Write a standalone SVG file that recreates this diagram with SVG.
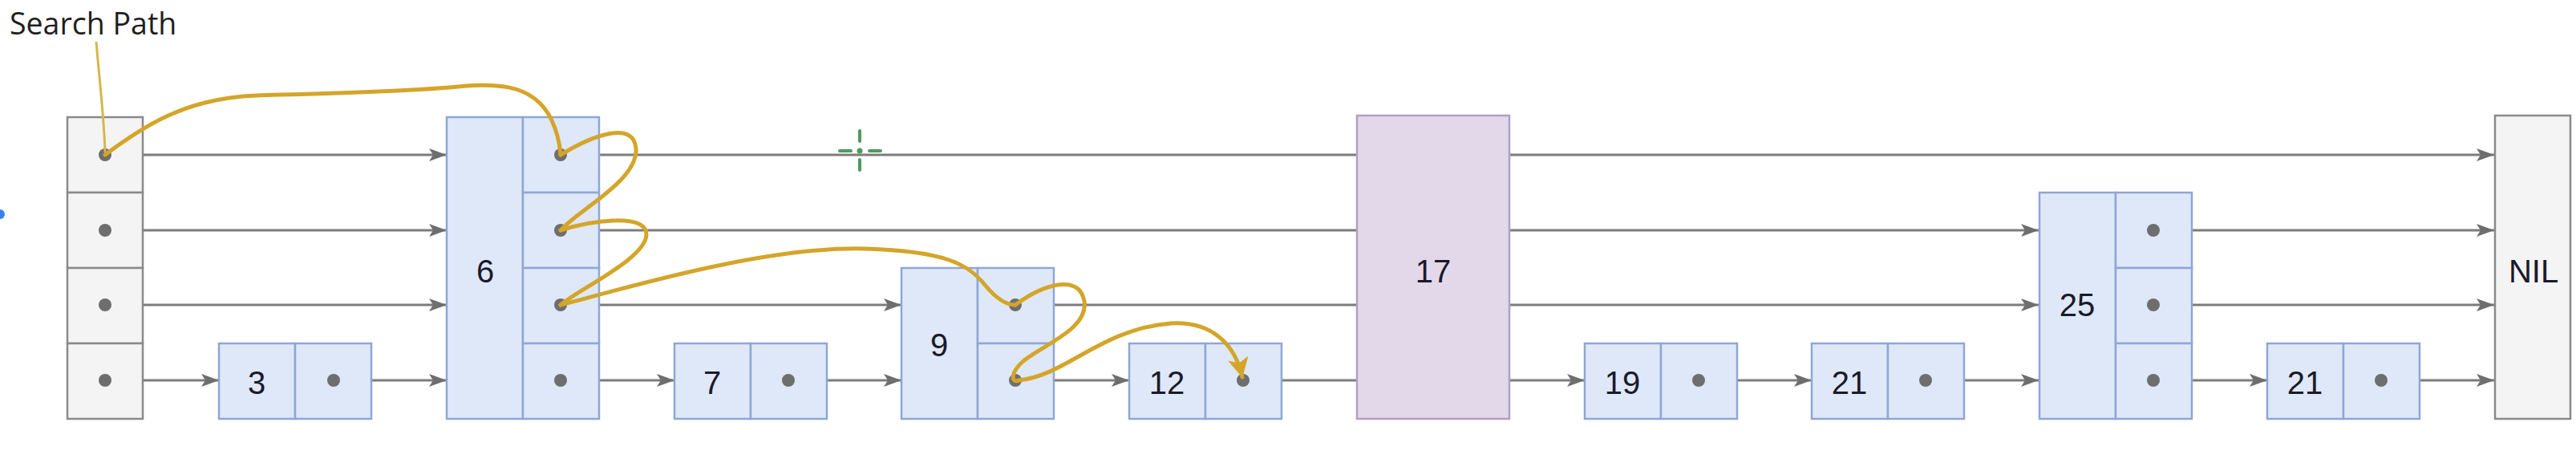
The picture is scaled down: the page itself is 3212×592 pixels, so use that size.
<svg xmlns="http://www.w3.org/2000/svg" width="3212" height="592" viewBox="0 0 3212 592">
<defs>
<style>
.bn{fill:#dfe8f9;stroke:#8fa7d4;stroke-width:2.5}
.gn{fill:#f4f4f4;stroke:#8a8a8a;stroke-width:2.5}
.pn{fill:#e2d8ea;stroke:#b29fc3;stroke-width:2.5}
.t{font-family:"Liberation Sans",Arial,sans-serif;font-size:40px;fill:#1a1a2a;text-anchor:middle}
.dot{fill:#6e6e6e}
.ln{stroke:#7c7c7c;stroke-width:3;fill:none}
.sp{stroke:#d4a52a;stroke-width:5;fill:none;stroke-linecap:round}
</style>
<marker id="ah" markerUnits="userSpaceOnUse" markerWidth="24" markerHeight="18" refX="22" refY="8" orient="auto">
<path d="M0,0 L22,8 L0,16 L5,8 z" fill="#6e6e6e"/>
</marker>
<marker id="gh" markerUnits="userSpaceOnUse" markerWidth="30" markerHeight="30" refX="24" refY="13" orient="auto">
<path d="M0,0 L25,13 L0,26 L6,13 z" fill="#d4a52a"/>
</marker>
</defs>
<rect width="3212" height="592" fill="#ffffff"/>

<g id="connectors">
<line class="ln" x1="131" y1="193" x2="557" y2="193" marker-end="url(#ah)"/>
<line class="ln" x1="699" y1="193" x2="3110" y2="193" marker-end="url(#ah)"/>
<line class="ln" x1="131" y1="287" x2="557" y2="287" marker-end="url(#ah)"/>
<line class="ln" x1="699" y1="287" x2="2542" y2="287" marker-end="url(#ah)"/>
<line class="ln" x1="2685" y1="287" x2="3110" y2="287" marker-end="url(#ah)"/>
<line class="ln" x1="131" y1="380" x2="557" y2="380" marker-end="url(#ah)"/>
<line class="ln" x1="699" y1="380" x2="1124" y2="380" marker-end="url(#ah)"/>
<line class="ln" x1="1266" y1="380" x2="2542" y2="380" marker-end="url(#ah)"/>
<line class="ln" x1="2685" y1="380" x2="3110" y2="380" marker-end="url(#ah)"/>
<line class="ln" x1="131" y1="474" x2="273" y2="474" marker-end="url(#ah)"/>
<line class="ln" x1="416" y1="474" x2="557" y2="474" marker-end="url(#ah)"/>
<line class="ln" x1="699" y1="474" x2="841" y2="474" marker-end="url(#ah)"/>
<line class="ln" x1="983" y1="474" x2="1124" y2="474" marker-end="url(#ah)"/>
<line class="ln" x1="1266" y1="474" x2="1408" y2="474" marker-end="url(#ah)"/>
<line class="ln" x1="1550" y1="474" x2="1976" y2="474" marker-end="url(#ah)"/>
<line class="ln" x1="2118" y1="474" x2="2259" y2="474" marker-end="url(#ah)"/>
<line class="ln" x1="2401" y1="474" x2="2542" y2="474" marker-end="url(#ah)"/>
<line class="ln" x1="2685" y1="474" x2="2827" y2="474" marker-end="url(#ah)"/>
<line class="ln" x1="2969" y1="474" x2="3110" y2="474" marker-end="url(#ah)"/>
</g>

<g id="head">
<rect class="gn" x="84" y="146" width="94" height="94"/>
<rect class="gn" x="84" y="240" width="94" height="94"/>
<rect class="gn" x="84" y="334" width="94" height="94"/>
<rect class="gn" x="84" y="428" width="94" height="94"/>
<circle class="dot" cx="131" cy="193" r="8"/>
<circle class="dot" cx="131" cy="287" r="8"/>
<circle class="dot" cx="131" cy="380" r="8"/>
<circle class="dot" cx="131" cy="474" r="8"/>
</g>

<g id="node3">
<rect class="bn" x="273" y="428" width="95" height="94"/>
<rect class="bn" x="368" y="428" width="95" height="94"/>
<text class="t" x="320" y="491">3</text>
<circle class="dot" cx="416" cy="474" r="8"/>
</g>

<g id="node6">
<rect class="bn" x="557" y="146" width="95" height="376"/>
<rect class="bn" x="652" y="146" width="95" height="94"/>
<rect class="bn" x="652" y="240" width="95" height="94"/>
<rect class="bn" x="652" y="334" width="95" height="94"/>
<rect class="bn" x="652" y="428" width="95" height="94"/>
<text class="t" x="605" y="352">6</text>
<circle class="dot" cx="699" cy="193" r="8"/>
<circle class="dot" cx="699" cy="287" r="8"/>
<circle class="dot" cx="699" cy="380" r="8"/>
<circle class="dot" cx="699" cy="474" r="8"/>
</g>

<g id="node7">
<rect class="bn" x="841" y="428" width="95" height="94"/>
<rect class="bn" x="936" y="428" width="95" height="94"/>
<text class="t" x="888" y="491">7</text>
<circle class="dot" cx="983" cy="474" r="8"/>
</g>

<g id="node9">
<rect class="bn" x="1124" y="334" width="95" height="188"/>
<rect class="bn" x="1219" y="334" width="95" height="94"/>
<rect class="bn" x="1219" y="428" width="95" height="94"/>
<text class="t" x="1171" y="444">9</text>
<circle class="dot" cx="1266" cy="380" r="8"/>
<circle class="dot" cx="1266" cy="474" r="8"/>
</g>

<g id="node12">
<rect class="bn" x="1408" y="428" width="95" height="94"/>
<rect class="bn" x="1503" y="428" width="95" height="94"/>
<text class="t" x="1455" y="491">12</text>
<circle class="dot" cx="1550" cy="474" r="8"/>
</g>

<g id="node17">
<rect class="pn" x="1692" y="144" width="190" height="378"/>
<text class="t" x="1787" y="352">17</text>
</g>

<g id="node19">
<rect class="bn" x="1976" y="428" width="95" height="94"/>
<rect class="bn" x="2071" y="428" width="95" height="94"/>
<text class="t" x="2023" y="491">19</text>
<circle class="dot" cx="2118" cy="474" r="8"/>
</g>

<g id="node21a">
<rect class="bn" x="2259" y="428" width="95" height="94"/>
<rect class="bn" x="2354" y="428" width="95" height="94"/>
<text class="t" x="2306" y="491">21</text>
<circle class="dot" cx="2401" cy="474" r="8"/>
</g>

<g id="node25">
<rect class="bn" x="2543" y="240" width="95" height="282"/>
<rect class="bn" x="2638" y="240" width="95" height="94"/>
<rect class="bn" x="2638" y="334" width="95" height="94"/>
<rect class="bn" x="2638" y="428" width="95" height="94"/>
<text class="t" x="2590" y="394">25</text>
<circle class="dot" cx="2685" cy="287" r="8"/>
<circle class="dot" cx="2685" cy="380" r="8"/>
<circle class="dot" cx="2685" cy="474" r="8"/>
</g>

<g id="node21b">
<rect class="bn" x="2827" y="428" width="95" height="94"/>
<rect class="bn" x="2922" y="428" width="95" height="94"/>
<text class="t" x="2874" y="491">21</text>
<circle class="dot" cx="2969" cy="474" r="8"/>
</g>

<g id="nil">
<rect class="gn" x="3111" y="144" width="94" height="378"/>
<text class="t" x="3159" y="352">NIL</text>
</g>

<g id="search-path">
<text x="12" y="43" font-family="'Open Sans','Noto Sans',sans-serif" font-size="37.5" fill="#1f1f1f">Search Path</text>
<path d="M120,52 C124,100 130,150 131,190" stroke="#d8b54a" stroke-width="3" fill="none"/>
<path class="sp" d="M131,193 C175,160 230,122 320,119 C420,116 500,114 560,109 C610,104 665,100 688,150 C695,165 698,180 699,193"/>
<path class="sp" d="M699,193 C740,168 790,150 793,185 C796,225 720,262 699,287"/>
<path class="sp" d="M699,287 C740,274 805,266 806,292 C806,322 722,360 699,380"/>
<path class="sp" d="M699,380 C760,365 950,306 1080,310 C1180,313 1208,330 1228,355 C1242,372 1254,380 1266,380"/>
<path class="sp" d="M1266,380 C1300,355 1345,340 1352,375 C1358,410 1300,430 1276,450 C1258,466 1262,478 1270,474"/>
<path class="sp" d="M1270,474 C1330,468 1372,410 1460,403 C1512,400 1540,430 1549,470" marker-end="url(#gh)"/>
</g>

<g id="cursor" stroke="#4f9a5e" stroke-width="4" stroke-linecap="round">
<line x1="1072" y1="163" x2="1072" y2="176"/>
<line x1="1072" y1="199" x2="1072" y2="212"/>
<line x1="1047" y1="188" x2="1061" y2="188"/>
<line x1="1084" y1="188" x2="1098" y2="188"/>
<circle cx="1072" cy="188" r="3.5" fill="#4f9a5e" stroke="none"/>
</g>
<circle cx="0" cy="267" r="6" fill="#3b82f0"/>
</svg>
